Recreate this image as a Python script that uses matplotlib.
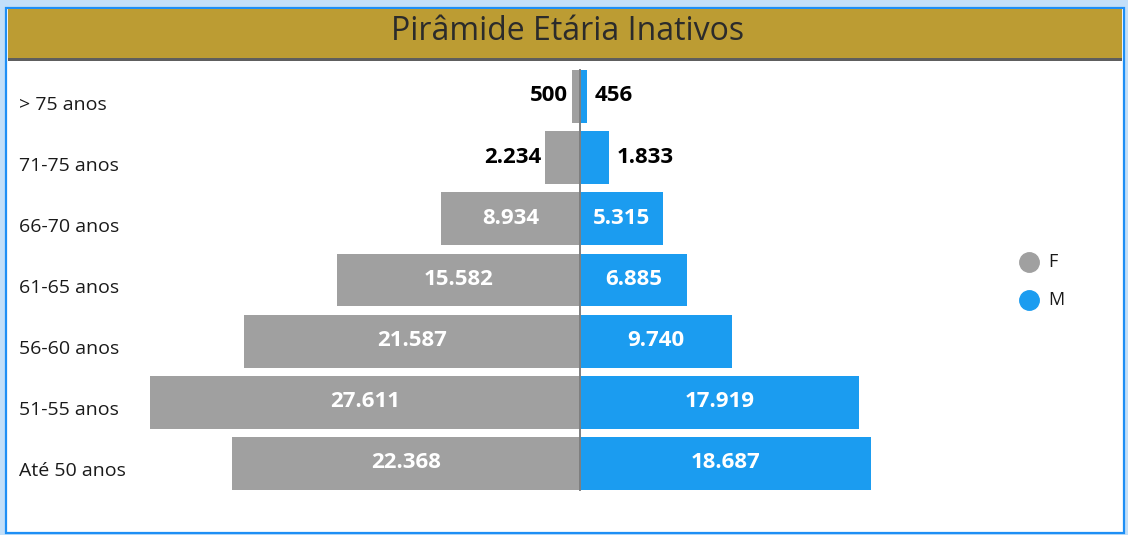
import matplotlib.pyplot as plt
from matplotlib.patches import Rectangle
from matplotlib.lines import Line2D
import matplotlib.transforms as mtransforms

faixas = ["> 75 anos", "71-75 anos", "66-70 anos", "61-65 anos",
          "56-60 anos", "51-55 anos", "Até 50 anos"]
feminino = [500, 2234, 8934, 15582, 21587, 27611, 22368]
masculino = [456, 1833, 5315, 6885, 9740, 17919, 18687]

CINZA = "#A0A0A0"
AZUL = "#1B9CF0"
W, H = 1128, 535


def fmt(v):
    return f"{v:,}".replace(",", ".")


def px(x0, y0, x1, y1):
    # pixel box (top-left origin) -> figure fraction rect
    return [x0 / W, 1 - y1 / H, (x1 - x0) / W, (y1 - y0) / H]


plt.rcParams['font.family'] = ['Open Sans', 'DejaVu Sans']
fig = plt.figure(figsize=(W / 100, H / 100), dpi=100, facecolor="#C2DFF9")

# card + header
fig.patches.append(Rectangle((6 / W, 1 - 533 / H), 1118 / W, 525 / H, transform=fig.transFigure,
                             facecolor="white", edgecolor="#1E8FF5", lw=1.6, zorder=0))
r = px(8, 9, 1122, 58)
fig.patches.append(Rectangle((r[0], r[1]), r[2], r[3], transform=fig.transFigure,
                             facecolor="#BC9C33", edgecolor="none", zorder=1))
r = px(8, 58, 1122, 61)
fig.patches.append(Rectangle((r[0], r[1]), r[2], r[3], transform=fig.transFigure,
                             facecolor="#5E5E5E", edgecolor="none", zorder=1))
fig.text(568 / W, 1 - 32 / H, "Pirâmide Etária Inativos", ha="center", va="center",
         fontsize=23, color="#2B2B2B", zorder=2)

scale = 0.01557  # px per unit
ax = fig.add_axes(px(140, 66, 1000, 494))
ax.set_zorder(5)
ax.set_xlim(-(580 - 140) / scale, (1000 - 580) / scale)
ax.set_ylim(6.5, -0.5)
ax.axis("off")

y = list(range(len(faixas)))
ax.barh(y, [-v for v in feminino], height=0.865, color=CINZA)
ax.barh(y, masculino, height=0.865, color=AZUL)
ax.plot([0, 0], [-0.43, 6.43], color="#7F7F7F", lw=1.4, zorder=3)

limite = 5000
for i in y:
    f, m = feminino[i], masculino[i]
    if f > limite:
        ax.text(-f / 2, i - 0.01, fmt(f), ha="center", va="center", color="white",
                fontsize=16, fontweight="bold")
    else:
        ax.text(-f - 250, i - 0.01, fmt(f), ha="right", va="center", color="black",
                fontsize=16, fontweight="bold")
    if m > limite:
        ax.text(m / 2, i - 0.01, fmt(m), ha="center", va="center", color="white",
                fontsize=16, fontweight="bold")
    else:
        ax.text(m + 500, i - 0.01, fmt(m), ha="left", va="center", color="black",
                fontsize=16, fontweight="bold")

trans = mtransforms.blended_transform_factory(fig.transFigure, ax.transData)
for i, nome in enumerate(faixas):
    ax.text(19 / W, i + 0.13, nome, transform=trans, ha="left", va="center",
            fontsize=14, color="#1A1A1A")

# legend
for k, (nome, cor) in enumerate([("F", CINZA), ("M", AZUL)]):
    yy = 1 - (262 + 38 * k) / H
    fig.add_artist(Line2D([1029 / W], [yy], marker="o", markersize=14, color=cor,
                          transform=fig.transFigure, linestyle="none"))
    fig.text(1048 / W, yy, nome, ha="left", va="center", fontsize=13, color="#1A1A1A")

fig.savefig("out.png", dpi=100, facecolor=fig.get_facecolor())
